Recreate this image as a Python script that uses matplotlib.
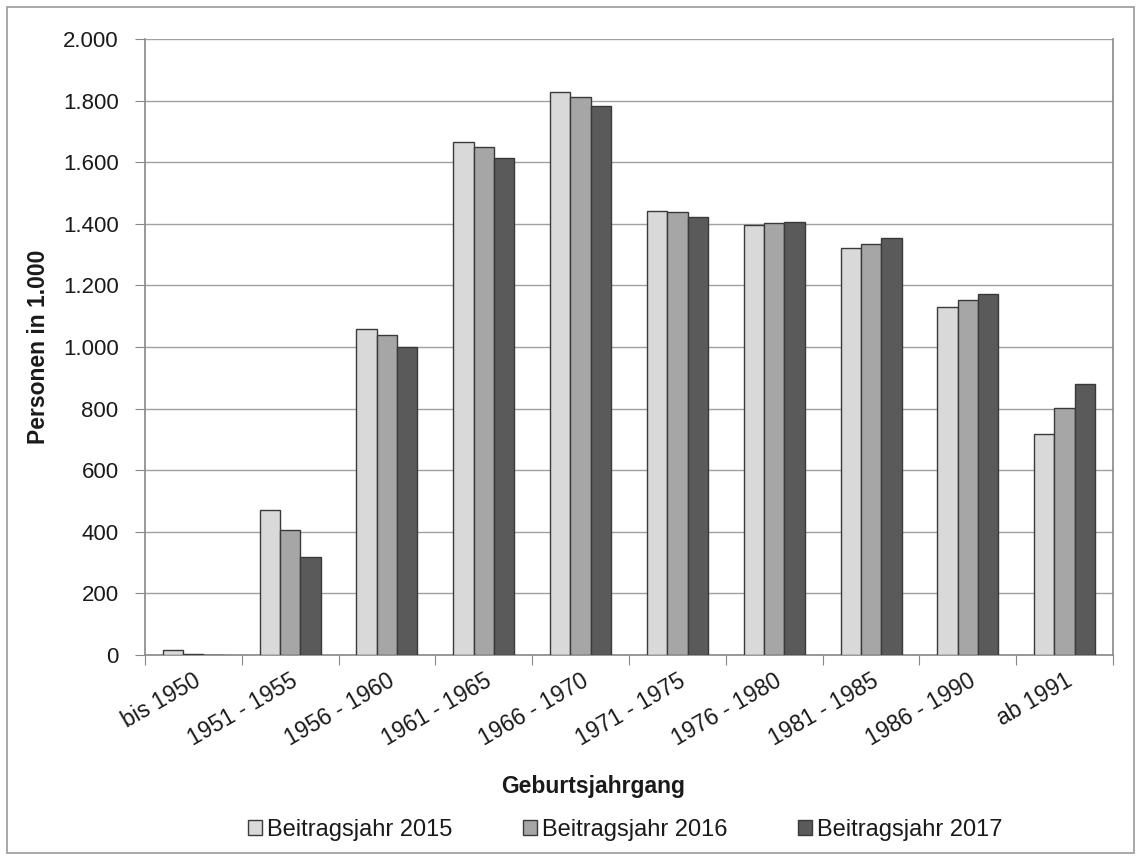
import matplotlib
matplotlib.use("Agg")
import matplotlib.pyplot as plt
import numpy as np
from matplotlib.patches import Rectangle
from matplotlib.ticker import FuncFormatter, MultipleLocator

categories = ["bis 1950", "1951 - 1955", "1956 - 1960", "1961 - 1965", "1966 - 1970",
              "1971 - 1975", "1976 - 1980", "1981 - 1985", "1986 - 1990", "ab 1991"]
series_names = ["Beitragsjahr 2015", "Beitragsjahr 2016", "Beitragsjahr 2017"]
values_2015 = [15, 470, 1058, 1665, 1828, 1442, 1395, 1323, 1130, 716]
values_2016 = [2, 405, 1038, 1648, 1812, 1438, 1403, 1335, 1152, 803]
values_2017 = [1, 318, 1000, 1615, 1782, 1422, 1407, 1355, 1172, 881]
colors = ["#d9d9d9", "#a6a6a6", "#5a5a5a"]

plt.rcParams['font.family'] = ['Liberation Sans', 'DejaVu Sans']

fig = plt.figure(figsize=(11.41, 8.59), dpi=100)
ax = fig.add_axes([0.127, 0.2375, 0.8485, 0.7171])

x = np.arange(len(categories))
w = 0.21
for i, (vals, name, c) in enumerate(zip([values_2015, values_2016, values_2017], series_names, colors)):
    ax.bar(x + (i - 1) * w, vals, width=w, color=c, edgecolor="#3a3a3a", linewidth=1.0,
           label=name, zorder=3)

ax.set_xlim(-0.5, len(categories) - 0.5)
ax.set_ylim(0, 2000)
ax.yaxis.set_major_locator(MultipleLocator(200))
ax.yaxis.set_major_formatter(FuncFormatter(lambda v, p: f"{int(v):,}".replace(",", ".")))
ax.grid(axis="y", color="#a0a0a0", linewidth=1.0, zorder=0)

# category boundary ticks
ax.set_xticks(np.arange(-0.5, len(categories) + 0.5, 1.0))
ax.set_xticklabels([])
ax.tick_params(axis="x", which="major", length=7, color="#888888", direction="out")
ax.set_xticks(x, minor=True)
ax.set_xticklabels(categories, minor=True, rotation=30, ha="right", va="top",
                   rotation_mode="anchor", fontsize=16.5, color="#1a1a1a")
ax.tick_params(axis="x", which="minor", length=0, pad=10)
ax.tick_params(axis="y", length=7, color="#888888", labelsize=16, labelcolor="#1a1a1a", pad=12)

for side in ["left", "bottom", "right"]:
    ax.spines[side].set_color("#888888")
    ax.spines[side].set_linewidth(1.2)
ax.spines["top"].set_visible(False)

ax.set_ylabel("Personen in 1.000", fontsize=16.5, fontweight="bold", color="#1a1a1a")
ax.yaxis.set_label_coords(-0.098, 0.5)
fig.text(0.52, 1 - 787 / 859, "Geburtsjahrgang", fontsize=16.5, color="#1a1a1a",
         fontweight="bold", ha="center", va="center")

handles, labels = ax.get_legend_handles_labels()
leg = fig.legend(handles, labels, loc="center", bbox_to_anchor=(0.548, 1 - 830 / 859), ncol=3,
                 frameon=False, fontsize=17, handlelength=0.6, handleheight=0.6,
                 handletextpad=0.2, columnspacing=3.0)
for t in leg.get_texts():
    t.set_color("#1a1a1a")

fig.add_artist(Rectangle((7 / 1141, 6 / 859), 1 - 14 / 1141, 1 - 13 / 859,
                         transform=fig.transFigure, fill=False, edgecolor="#9a9a9a",
                         linewidth=1.2))

fig.savefig("out.png", dpi=100)
